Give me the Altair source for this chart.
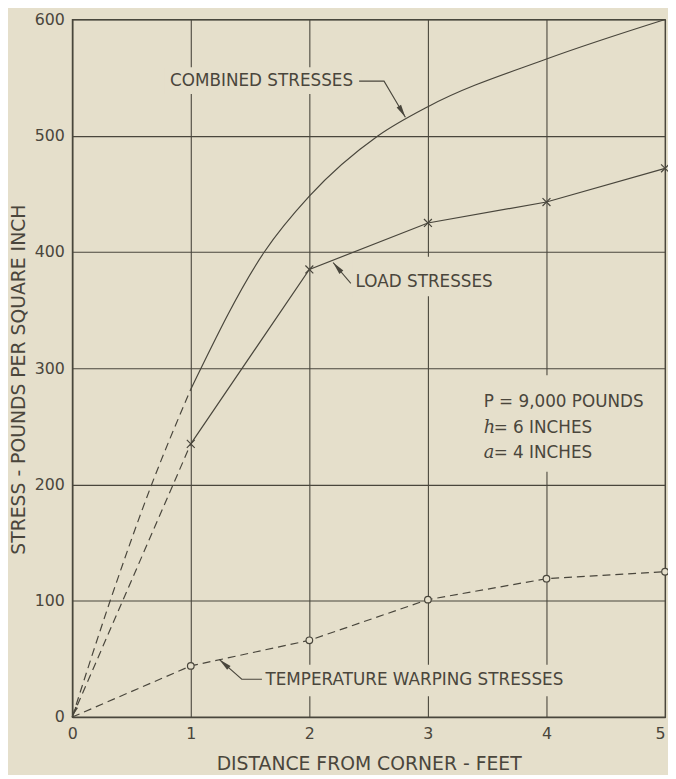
import math
import altair as alt
import pandas as pd

# ---------------- data ----------------
x_ticks = [0, 1, 2, 3, 4, 5]
y_ticks = [0, 100, 200, 300, 400, 500, 600]

load_x = [1, 2, 3, 4, 5]
load_y = [235, 385, 425, 443, 472]
load_ext_x = [0, 1]
load_ext_y = [0, 235]

temp_x = [0, 1, 2, 3, 4, 5]
temp_y = [0, 44, 66, 101, 119, 125]

comb_x = [1, 1.62, 2, 2.58, 3, 4, 5]
comb_y = [282, 400, 448, 500, 525, 566, 600]
comb_ext_x = [0, 0.32, 0.67, 1]
comb_ext_y = [0, 100, 200, 282]

labels = ["COMBINED STRESSES", "LOAD STRESSES", "TEMPERATURE WARPING STRESSES"]
label_x = [0.825, 2.39, 1.63]
label_y = [547, 374, 32]

param_text = ["P = 9,000 POUNDS", "= 6 INCHES", "= 4 INCHES"]
param_x = [3.47, 3.555, 3.555]
param_y = [271, 249, 227]
sym_text = ["h", "a"]
sym_x = [3.47, 3.47]
sym_y = [249, 227]

# leader lines (label -> curve)
lead_id = ["c", "c", "c", "l", "l", "t", "t", "t"]
lead_ord = [0, 1, 2, 0, 1, 0, 1, 2]
lead_x = [2.42, 2.63, 2.81, 2.35, 2.20, 1.60, 1.43, 1.24]
lead_y = [547, 547, 516, 373, 391, 32.5, 32.5, 49.6]

# gaps in the grid behind lettering
gap_x = [0.78, 2.36, 1.60, 3.42]
gap_x2 = [2.44, 3.70, 4.45, 4.90]
gap_y = [536, 362, 18, 211]
gap_y2 = [559, 396, 45, 294]

# ---------------- styling ----------------
W, H = 600, 706
BG = "#e5dfcb"
INK = "#49463c"
TXT = "#4a463c"
FONT = "DejaVu Sans"
sx, sy = W / 5.0, H / 600.0

xs = alt.Scale(domain=[0, 5], nice=False, zero=False)
ys = alt.Scale(domain=[0, 600], nice=False, zero=False)


def X(field="x", axis=None):
    if axis is None:
        return alt.X(f"{field}:Q", scale=xs)
    return alt.X(f"{field}:Q", scale=xs, axis=axis)


def Y(field="y", axis=None):
    if axis is None:
        return alt.Y(f"{field}:Q", scale=ys)
    return alt.Y(f"{field}:Q", scale=ys, axis=axis)


x_axis = alt.Axis(values=x_ticks, format="d", grid=True, ticks=False,
                  title="DISTANCE FROM CORNER - FEET", labelPadding=9,
                  labelFlush=False, labelOverlap=False,
                  labelAlign=alt.expr("datum.value == 5 ? 'right' : 'center'"),
                  titleBaseline="alphabetic", titleY=53, titleAnchor="middle")
y_axis = alt.Axis(values=y_ticks, format="d", grid=True, ticks=False,
                  title="STRESS - POUNDS PER SQUARE INCH", labelPadding=8,
                  labelFlush=False, labelOverlap=False,
                  titleX=-54, titleY=364, titleAngle=270,
                  titleAlign="center", titleBaseline="middle")

# base layer carrying axes
base = alt.Chart(pd.DataFrame({"x": load_ext_x, "y": load_ext_y})).mark_line(
    color=INK, strokeWidth=1.2, strokeDash=[8, 5]
).encode(x=X(axis=x_axis), y=Y(axis=y_axis))

gaps = alt.Chart(pd.DataFrame({"x": gap_x, "x2": gap_x2, "y": gap_y, "y2": gap_y2})).mark_rect(
    color=BG, opacity=1
).encode(x=X(), x2="x2:Q", y=Y(), y2="y2:Q")

load_line = alt.Chart(pd.DataFrame({"x": load_x, "y": load_y})).mark_line(
    color=INK, strokeWidth=1.2
).encode(x=X(), y=Y())

comb_line = alt.Chart(pd.DataFrame({"x": comb_x, "y": comb_y})).mark_line(
    color=INK, strokeWidth=1.2, interpolate="monotone"
).encode(x=X(), y=Y())

comb_ext = alt.Chart(pd.DataFrame({"x": comb_ext_x, "y": comb_ext_y})).mark_line(
    color=INK, strokeWidth=1.2, strokeDash=[8, 5], interpolate="monotone"
).encode(x=X(), y=Y())

temp_line = alt.Chart(pd.DataFrame({"x": temp_x, "y": temp_y})).mark_line(
    color=INK, strokeWidth=1.2, strokeDash=[8, 5]
).encode(x=X(), y=Y())

leaders = alt.Chart(pd.DataFrame({"id": lead_id, "o": lead_ord, "x": lead_x, "y": lead_y})).mark_line(
    color=INK, strokeWidth=1.1
).encode(x=X(), y=Y(), detail="id:N", order="o:Q")

# arrowheads at the leader tips; angle from the leader's last segment in pixels
arr_x, arr_y, arr_a, arr_s = [], [], [], []
for k in ["c", "l", "t"]:
    pts = [(lead_x[i], lead_y[i]) for i in range(len(lead_id)) if lead_id[i] == k]
    (x0, y0), (x1, y1) = pts[-2], pts[-1]
    dx = (x1 - x0) * sx
    dy = -(y1 - y0) * sy
    arr_x.append(x1)
    arr_y.append(y1)
    arr_a.append(math.degrees(math.atan2(dx, -dy)) % 360)
    arr_s.append(169)
# small arrowhead at the origin where the dashed curves meet
arr_x.append(0.01)
arr_y.append(2)
arr_a.append(math.degrees(math.atan2(-1.0 * sx, -(load_ext_y[1] * sy))) % 360)
arr_s.append(64)

arrows = alt.Chart(pd.DataFrame({"x": arr_x, "y": arr_y, "a": arr_a, "s": arr_s})).mark_point(
    shape="M0,0L0.4,2L-0.4,2Z", filled=True, color=INK, opacity=1, strokeWidth=0
).encode(x=X(), y=Y(), angle=alt.Angle("a:Q", scale=None),
         size=alt.Size("s:Q", scale=None))

load_pts = alt.Chart(pd.DataFrame({"x": load_x, "y": load_y})).mark_point(
    shape="M-1,-1L1,1M-1,1L1,-1", filled=False, stroke=INK, strokeWidth=1.2,
    size=64, opacity=1
).encode(x=X(), y=Y())

temp_pts = alt.Chart(pd.DataFrame({"x": temp_x[1:], "y": temp_y[1:]})).mark_point(
    shape="circle", filled=True, fill=BG, stroke=INK, strokeWidth=1.2,
    size=45, opacity=1
).encode(x=X(), y=Y())

label_txt = alt.Chart(pd.DataFrame({"x": label_x, "y": label_y, "t": labels})).mark_text(
    align="left", baseline="middle", font=FONT, fontSize=17, color=TXT
).encode(x=X(), y=Y(), text="t:N")

param_txt = alt.Chart(pd.DataFrame({"x": param_x, "y": param_y, "t": param_text})).mark_text(
    align="left", baseline="middle", font=FONT, fontSize=17, color=TXT
).encode(x=X(), y=Y(), text="t:N")

sym_txt = alt.Chart(pd.DataFrame({"x": sym_x, "y": sym_y, "t": sym_text})).mark_text(
    align="left", baseline="middle", font="DejaVu Serif", fontStyle="italic",
    fontSize=18, color=TXT
).encode(x=X(), y=Y(), text="t:N")

chart = alt.layer(
    base, gaps, load_line, comb_line, comb_ext, temp_line, leaders, arrows,
    load_pts, temp_pts, label_txt, param_txt, sym_txt
).properties(
    width=W, height=H,
    autosize=alt.AutoSizeParams(type="none"),
    padding={"left": 65, "top": 7, "right": 3, "bottom": 54},
).configure(
    background=BG
).configure_view(
    stroke=INK, strokeWidth=1.3
).configure_axis(
    gridColor=INK, gridWidth=1.1, gridOpacity=1,
    domainColor=INK, domainWidth=1.3,
    labelFont=FONT, labelFontSize=16, labelColor=TXT,
    titleFont=FONT, titleFontSize=19, titleFontWeight="normal", titleColor=TXT,
)

chart.save("out.html", embed_options={"renderer": "svg", "actions": False})
